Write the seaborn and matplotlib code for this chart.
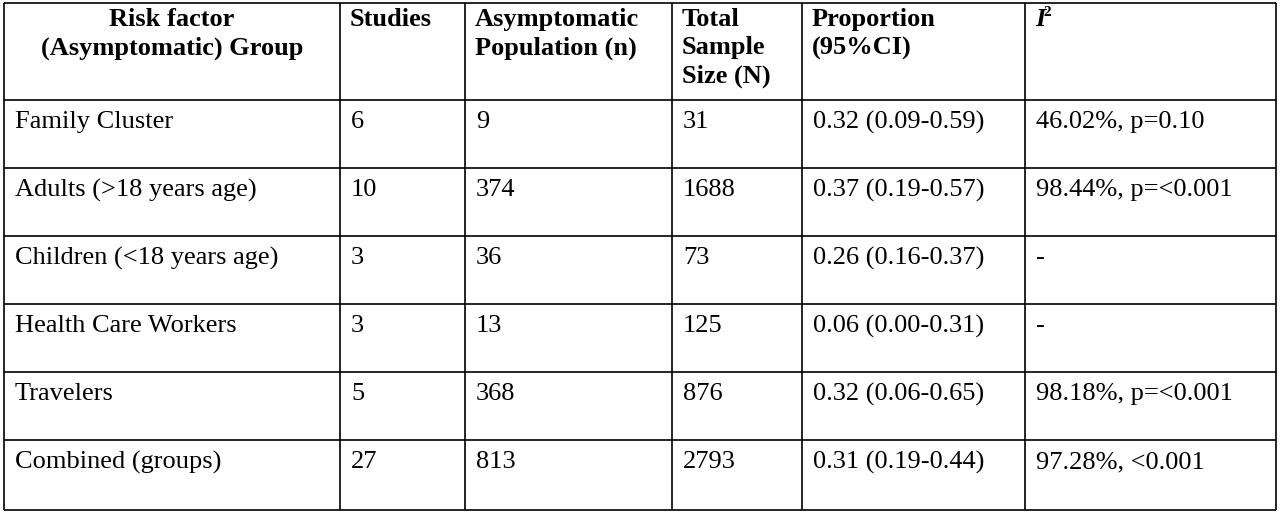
import matplotlib
matplotlib.use("Agg")
import matplotlib.pyplot as plt
import seaborn as sns

groups = ["Family Cluster", "Adults (>18 years age)", "Children (<18 years age)",
          "Health Care Workers", "Travelers", "Combined (groups)"]
studies = ["6", "10", "3", "3", "5", "27"]
asym_n = ["9", "374", "36", "13", "368", "813"]
total_n = ["31", "1688", "73", "125", "876", "2793"]
proportion = ["0.32 (0.09-0.59)", "0.37 (0.19-0.57)", "0.26 (0.16-0.37)",
              "0.06 (0.00-0.31)", "0.32 (0.06-0.65)", "0.31 (0.19-0.44)"]
i2 = ["46.02%, p=0.10", "98.44%, p=<0.001", "-", "-", "98.18%, p=<0.001", "97.28%, <0.001"]
headers = ["Risk factor\n(Asymptomatic) Group", "Studies", "Asymptomatic\nPopulation (n)",
           "Total\nSample\nSize (N)", "Proportion\n(95%CI)"]

sns.set_style("white")
plt.rcParams['font.family'] = ['Liberation Serif', 'DejaVu Serif']
plt.rcParams['text.color'] = 'black'

fig = plt.figure(figsize=(12.8, 5.14), dpi=100)
ax = fig.add_axes([0, 0, 1, 1])
ax.set_xlim(0, 1280)
ax.set_ylim(514, 0)
ax.axis("off")

col_x = [4, 340, 465, 672, 802, 1025, 1276]
row_y = [3, 100, 168, 236, 304, 372, 440, 510]
ax.vlines(col_x, row_y[0], row_y[-1], color="black", lw=1.2)
ax.hlines(row_y, col_x[0], col_x[-1], color="black", lw=1.2)

fs = 19
for j, h in enumerate(headers):
    if j == 0:
        ax.text((col_x[0] + col_x[1]) / 2, 8, h, ha="center", va="top", fontsize=fs,
                fontweight="bold", linespacing=1.3, color="black")
    else:
        ax.text(col_x[j] + 10, 8, h, ha="left", va="top", fontsize=fs,
                fontweight="bold", linespacing=1.3, color="black")
ax.text(col_x[5] + 10, 8, "I", ha="left", va="top", fontsize=fs, fontweight="bold",
        style="italic", color="black")
ax.text(col_x[5] + 18, 6, "2", ha="left", va="top", fontsize=11, fontweight="bold", color="black")

cols = [groups, studies, asym_n, total_n, proportion, i2]
for i in range(len(groups)):
    y = row_y[i + 1] + 11
    for j, c in enumerate(cols):
        ax.text(col_x[j] + 11, y, c[i], ha="left", va="top", fontsize=fs, color="black")

fig.savefig("out.png", dpi=100, facecolor="white")
